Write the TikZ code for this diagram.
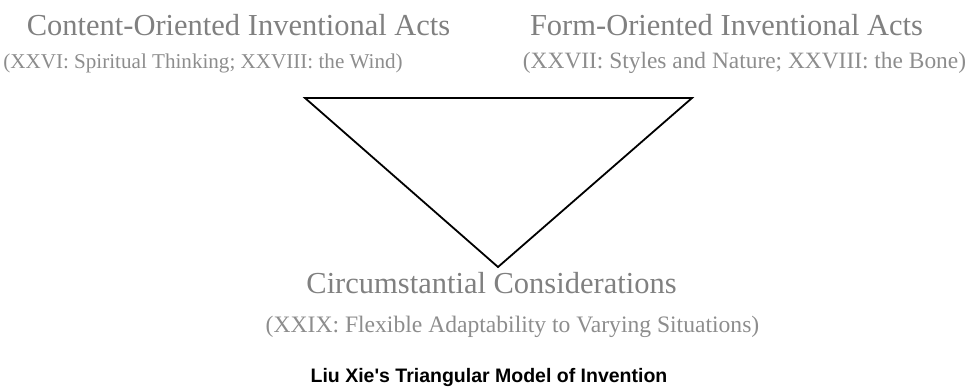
\documentclass[tikz,border=0pt]{standalone}
\usepackage{fontspec}
\newfontfamily\labelfont{Liberation Serif}
\newfontfamily\capfont{Liberation Sans}
\definecolor{labelgray}{RGB}{128,128,128}
\tikzset{
    headtext/.style={anchor=base, inner sep=0pt, text=labelgray,
        font=\labelfont\fontsize{30.5}{32}\selectfont},
    subtext/.style={anchor=base, inner sep=0pt, text=labelgray!90,
        font=\labelfont\fontsize{#1}{#1}\selectfont},
    captext/.style={anchor=base, inner sep=0pt,
        font=\capfont\bfseries\fontsize{19.5}{20}\selectfont}
}
\begin{document}
\begin{tikzpicture}[x=1pt, y=-1pt]
    \useasboundingbox (0,0) rectangle (973,386);
    % Tam giác
    \coordinate (tl) at (305,98);
    \coordinate (tr) at (692,98);
    \coordinate (bot) at (498,267);
    \draw[line width=1.8pt, line join=miter] (tl) -- (tr) -- (bot) -- cycle;
    % Nhãn ba đỉnh
    \node[headtext] (content) at (238.5,35) {Content-Oriented Inventional Acts};
    \node[subtext=21.1] (contentsub) at (203,68) {(XXVI: Spiritual Thinking; XXVIII: the Wind)};
    \node[headtext] (form) at (726.5,35) {Form-Oriented Inventional Acts};
    \node[subtext=23.4] (formsub) at (744.5,68) {(XXVII: Styles and Nature; XXVIII: the Bone)};
    \node[headtext] (circ) at (491.5,293) {Circumstantial Considerations};
    \node[subtext=23.6] (circsub) at (512.5,332) {(XXIX: Flexible Adaptability to Varying Situations)};
    % Tiêu đề
    \node[captext] (caption) at (489,382) {Liu Xie's Triangular Model of Invention};
\end{tikzpicture}
\end{document}
